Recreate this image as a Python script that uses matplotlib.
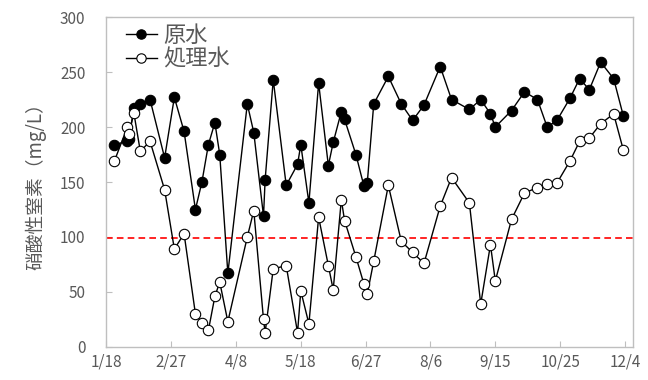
import datetime as dt
import matplotlib
matplotlib.use('Agg')
import matplotlib.pyplot as plt

plt.rcParams['font.family'] = ['Noto Sans CJK JP', 'DejaVu Sans']

start = dt.date(2019, 1, 18)

# days since 1/18
days = [5, 13, 14, 17, 21, 27, 36, 42, 48, 55, 59, 63, 67, 70, 75, 87, 91, 97, 98, 103,
        111, 118, 120, 125, 131, 137, 140, 145, 147, 154, 159, 161, 165, 174, 182, 189, 196, 206,
        213, 224, 231, 237, 240, 250, 258, 266, 272, 278, 286, 292, 298, 305, 313, 319]

raw = [184, 187, 189, 217, 221, 225, 172, 227, 196, 125, 150, 184, 204, 175, 67, 221, 195, 119, 152, 243,
       147, 166, 184, 131, 240, 165, 186, 214, 207, 175, 146, 149, 221, 246, 221, 206, 220, 255,
       225, 216, 225, 212, 200, 215, 232, 225, 200, 206, 226, 244, 234, 259, 244, 210]

treated = [169, 200, 194, 213, 178, 187, 143, 89, 103, 30, 22, 15, 46, 59, 23, 100, 124, 25, 13, 71,
           74, 13, 51, 21, 118, 74, 52, 134, 115, 82, 57, 48, 78, 147, 96, 86, 76, 128,
           154, 131, 39, 93, 60, 116, 140, 145, 148, 149, 169, 187, 190, 203, 212, 179]

limit = 99
tick_days = [0, 40, 80, 120, 160, 200, 240, 280, 320]
y_ticks = [0, 50, 100, 150, 200, 250, 300]

dates = [start + dt.timedelta(days=d) for d in days]
tick_dates = [start + dt.timedelta(days=d) for d in tick_days]

fig = plt.figure(figsize=(6.48, 3.80), dpi=100)
ax = fig.add_axes([0.164, 0.087, 0.813, 0.868])

ax.plot(dates, raw, color='black', lw=1.0, marker='o', ms=7.5,
        mfc='black', mec='black', mew=0.8, label='原水', zorder=3)
ax.plot(dates, treated, color='black', lw=1.0, marker='o', ms=7.5,
        mfc='white', mec='black', mew=0.8, label='処理水', zorder=4)
ax.axhline(limit, color='#ff0000', lw=1.2, ls=(0, (4, 2.5)), zorder=2)

ax.set_xlim(start, start + dt.timedelta(days=325.5))
ax.set_ylim(0, 300)
ax.set_xticks(tick_dates)
ax.set_xticklabels([f'{d.month}/{d.day}' for d in tick_dates])
ax.set_yticks(y_ticks)

for s in ax.spines.values():
    s.set_color('#bfbfbf')
    s.set_linewidth(1.0)

ax.tick_params(axis='x', direction='in', length=4, color='#bfbfbf', pad=5,
               labelsize=11, labelcolor='#595959')
ax.tick_params(axis='y', direction='in', length=4, color='#bfbfbf', pad=15,
               labelsize=11, labelcolor='#595959')

ax.set_ylabel('硝酸性窒素（mg/L）', fontsize=13.5, color='#595959', labelpad=10)

ax.legend(loc='upper left', bbox_to_anchor=(0.012, 1.02), frameon=False, fontsize=16,
          handlelength=1.4, handletextpad=0.3, labelspacing=0.05, borderaxespad=0.2,
          labelcolor='#595959', markerscale=0.9)

fig.savefig('out.png', dpi=100)
